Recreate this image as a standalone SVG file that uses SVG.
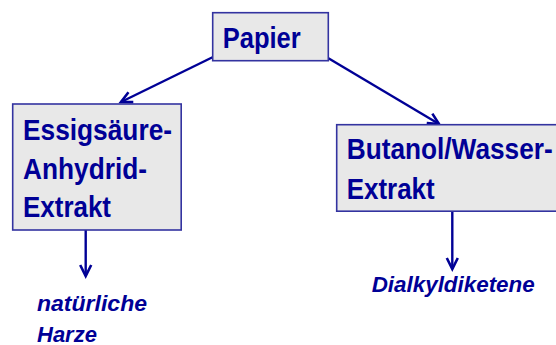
<svg xmlns="http://www.w3.org/2000/svg" width="556" height="345" viewBox="0 0 556 345">
<style>
.box{fill:#e8e8e8;stroke:#3333a0;stroke-width:1.6}
.t{font-family:"Liberation Sans",Arial,sans-serif;font-weight:bold;font-size:29px;fill:#000096}
.it{font-family:"Liberation Sans",Arial,sans-serif;font-weight:bold;font-style:italic;font-size:22px;fill:#000096}
.c{stroke:#000096;stroke-width:2.4;fill:none}
</style>
<defs>
<marker id="ah" markerUnits="userSpaceOnUse" markerWidth="16" markerHeight="16" viewBox="-13 -8 16 16" refX="0" refY="0" orient="auto">
<path d="M-11,-5.5 L0,0 L-11,5.5" fill="none" stroke="#000096" stroke-width="2.6"/>
</marker>
</defs>
<g id="connectors">
<line class="c" x1="213" y1="57" x2="121" y2="102" marker-end="url(#ah)"/>
<line class="c" x1="328" y1="58" x2="439" y2="124" marker-end="url(#ah)"/>
<line class="c" x1="85.7" y1="230" x2="85.7" y2="276" marker-end="url(#ah)"/>
<line class="c" x1="452.3" y1="211" x2="452.3" y2="269" marker-end="url(#ah)"/>
</g>
<g id="papier">
<rect class="box" x="212.7" y="12.7" width="115.6" height="48"/>
<text class="t" x="222.7" y="48" textLength="78" lengthAdjust="spacingAndGlyphs">Papier</text>
</g>
<g id="essig">
<rect class="box" x="12.7" y="104" width="168.5" height="126"/>
<text class="t" x="23" y="140" textLength="149" lengthAdjust="spacingAndGlyphs">Essigsäure-</text>
<text class="t" x="23" y="179" textLength="124" lengthAdjust="spacingAndGlyphs">Anhydrid-</text>
<text class="t" x="23" y="217" textLength="88" lengthAdjust="spacingAndGlyphs">Extrakt</text>
</g>
<g id="butanol">
<rect class="box" x="336.7" y="124.7" width="225" height="86.5"/>
<text class="t" x="346.7" y="159" textLength="206" lengthAdjust="spacingAndGlyphs">Butanol/Wasser-</text>
<text class="t" x="346.7" y="198.5" textLength="88" lengthAdjust="spacingAndGlyphs">Extrakt</text>
</g>
<g id="harze">
<text class="it" x="37" y="310.7" textLength="110" lengthAdjust="spacingAndGlyphs">natürliche</text>
<text class="it" x="37" y="341.5">Harze</text>
</g>
<g id="dialkyl">
<text class="it" x="371.7" y="291.7" textLength="163" lengthAdjust="spacingAndGlyphs">Dialkyldiketene</text>
</g>
</svg>
